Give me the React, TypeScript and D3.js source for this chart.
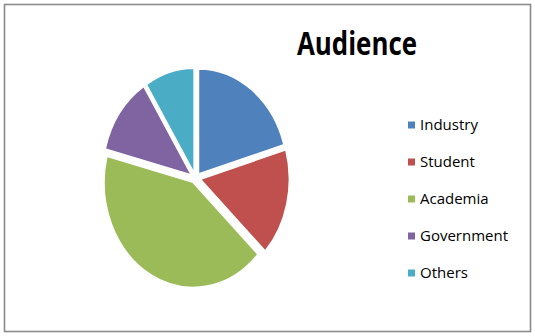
import React, {useEffect, useRef} from 'react'
import * as d3 from 'd3';

const categories = ["Industry", "Student", "Academia", "Government", "Others"]
const values = [20.5, 16.5, 42, 12, 9]
const colors = ["#4F81BD", "#C0504D", "#9BBB59", "#8064A2", "#4BACC6"]
const title = "Audience"

export default function App() {
    const ref = useRef(null)

    useEffect(() => {
        const width = 535, height = 336
        const svg = d3.select(ref.current)
        svg.selectAll("*").remove()

        svg.append("rect")
            .attr("x", 0).attr("y", 0)
            .attr("width", width).attr("height", height)
            .attr("fill", "white")

        // chart frame
        svg.append("rect")
            .attr("x", 4.5).attr("y", 4.5)
            .attr("width", 526).attr("height", 327)
            .attr("fill", "white")
            .attr("stroke", "#8a8a8a")
            .attr("stroke-width", 1.6)

        svg.append("text")
            .attr("x", 357).attr("y", 55)
            .attr("text-anchor", "middle")
            .attr("font-family", "'Open Sans', 'Noto Sans', sans-serif")
            .attr("font-weight", "bold")
            .attr("font-size", 32)
            .attr("textLength", 120)
            .attr("lengthAdjust", "spacingAndGlyphs")
            .attr("fill", "#000")
            .text(title)

        // pie (drawn as a circle then stretched into an ellipse, like the source)
        const rx = 89, ry = 105
        const cx = 195.5, cy = 178
        const explode = 5

        const pie = d3.pie().sort(null).value(d => d)
        const arc = d3.arc().innerRadius(0).outerRadius(rx)
        const arcs = pie(values)

        const g = svg.append("g")
            .attr("transform", "translate(" + cx + "," + cy + ") scale(1," + (ry / rx) + ")")

        g.selectAll(".slice")
            .data(arcs)
            .enter()
            .append("path")
            .attr("class", "slice")
            .attr("d", arc)
            .attr("transform", d => {
                const mid = (d.startAngle + d.endAngle) / 2
                return "translate(" + (Math.sin(mid) * explode) + "," + (-Math.cos(mid) * explode * rx / ry) + ")"
            })
            .attr("fill", (d, i) => colors[i])
            .attr("stroke", "white")
            .attr("stroke-width", 1.5)
            .attr("vector-effect", "non-scaling-stroke")

        // legend
        const legendY = d3.scalePoint()
            .domain(categories)
            .range([125, 273])

        const legend = svg.append("g")
        legend.selectAll(".key")
            .data(categories)
            .enter()
            .append("rect")
            .attr("x", 408)
            .attr("y", d => legendY(d) - 3.5)
            .attr("width", 7)
            .attr("height", 7)
            .attr("fill", (d, i) => colors[i])

        legend.selectAll(".label")
            .data(categories)
            .enter()
            .append("text")
            .attr("x", 420)
            .attr("y", d => legendY(d))
            .attr("dy", "0.36em")
            .attr("font-family", "'Open Sans', 'Noto Sans', sans-serif")
            .attr("font-size", 15)
            .attr("fill", "#000")
            .text(d => d)
    }, [])

    return (
        <svg ref={ref} width={535} height={336}
            style={{position: 'absolute', left: 0, top: 0}} />
    )
}
